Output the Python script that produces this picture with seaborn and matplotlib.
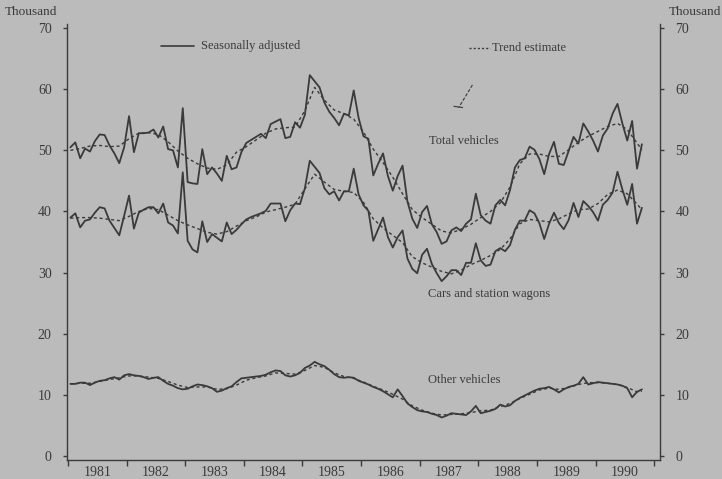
import numpy as np
import pandas as pd
import matplotlib
matplotlib.use("Agg")
import matplotlib.pyplot as plt
import seaborn as sns

# ---------------- data (thousand vehicles, monthly from Jan 1981) ----------------
years = ["1981", "1982", "1983", "1984", "1985", "1986", "1987", "1988", "1989", "1990"]

total_sa = [
    50.5, 51.3, 48.7, 50.3, 49.8, 51.5, 52.6, 52.5, 50.8, 49.5, 47.9, 50.5,
    55.6, 49.7, 52.8, 52.8, 52.9, 53.4, 52.1, 53.9, 50.2, 50.0, 47.2, 56.9,
    44.8, 44.6, 44.5, 50.2, 46.1, 47.2, 46.2, 45.0, 49.1, 46.9, 47.2, 49.7,
    51.2, 51.7, 52.2, 52.7, 52.0, 54.3, 54.7, 55.1, 52.0, 52.2, 54.6, 53.7,
    55.8, 62.3, 61.3, 60.3, 57.8, 56.3, 55.3, 54.1, 56.0, 55.7, 59.8, 55.3,
    52.3, 51.9, 45.9, 47.8, 49.5, 45.8, 43.4, 45.8, 47.5, 41.6, 38.8, 37.3,
    39.9, 40.9, 37.9, 36.6, 34.7, 35.1, 36.9, 37.4, 36.8, 38.0, 38.7, 42.9,
    39.4, 38.5, 38.0, 41.0, 41.9, 41.0, 43.5, 47.2, 48.4, 48.7, 50.6, 50.1,
    48.6, 46.1, 49.4, 51.4, 47.8, 47.6, 49.9, 52.2, 51.1, 54.4, 53.1, 51.6,
    49.8, 52.4, 53.6, 56.0, 57.6, 54.4, 51.6, 54.8, 47.0, 51.0,
]

cars_sa = [
    39.0, 39.7, 37.4, 38.5, 38.7, 39.8, 40.7, 40.5, 38.5, 37.3, 36.1, 39.3,
    42.6, 37.2, 39.8, 40.3, 40.7, 40.7, 39.7, 41.3, 38.2, 37.7, 36.4, 46.4,
    35.2, 33.8, 33.3, 38.4, 35.0, 36.3, 35.7, 35.1, 38.2, 36.3, 37.0, 37.9,
    38.7, 39.1, 39.4, 39.7, 40.1, 41.3, 41.3, 41.3, 38.4, 40.2, 41.3, 41.2,
    43.8, 48.3, 47.3, 46.3, 43.8, 42.8, 43.3, 41.8, 43.3, 43.3, 47.0, 42.8,
    41.0, 40.1, 35.2, 37.1, 39.0, 35.8, 34.1, 35.8, 36.9, 32.3, 30.6, 29.9,
    32.9, 33.9, 31.4, 29.9, 28.6, 29.4, 30.4, 30.4, 29.6, 31.6, 31.6, 34.8,
    32.0, 31.1, 31.3, 33.5, 34.0, 33.5, 34.5, 37.0, 38.5, 38.5, 40.2, 39.7,
    38.1, 35.5, 38.0, 39.8, 38.1, 37.1, 38.6, 41.4, 39.1, 41.7, 40.9, 39.9,
    38.5, 41.1, 41.9, 43.1, 46.5, 43.6, 41.1, 44.5, 38.0, 40.6,
]

other_sa = [
    11.8, 11.8, 12.0, 12.0, 11.6, 12.0, 12.3, 12.4, 12.7, 12.9, 12.5, 13.2,
    13.4, 13.2, 13.1, 12.9, 12.6, 12.8, 12.9, 12.3, 11.8, 11.5, 11.1, 10.9,
    11.0, 11.4, 11.7, 11.6, 11.4, 11.1, 10.5, 10.7, 11.1, 11.4, 12.1, 12.7,
    12.8, 12.9, 13.0, 13.1, 13.3, 13.7, 14.0, 13.9, 13.2, 13.0, 13.2, 13.6,
    14.4, 14.8, 15.4, 15.0, 14.7, 14.1, 13.4, 12.9, 12.8, 12.9, 12.8, 12.3,
    12.0, 11.7, 11.3, 11.0, 10.6, 10.1, 9.6, 10.9, 9.8, 8.6, 8.0, 7.5,
    7.3, 7.2, 6.9, 6.7, 6.3, 6.6, 7.0, 6.9, 6.8, 6.7, 7.3, 8.2,
    7.0, 7.2, 7.4, 7.7, 8.4, 8.1, 8.3, 9.0, 9.5, 9.9, 10.3, 10.7,
    11.0, 11.1, 11.3, 10.9, 10.4, 10.9, 11.3, 11.5, 11.8, 12.9, 11.7, 11.9,
    12.1, 12.0, 11.9, 11.8, 11.7, 11.5, 11.1, 9.6, 10.5, 10.9,
]

# trend estimates, read every second month (plus the last month)
trend_months = list(range(0, 117, 2)) + [117]
total_trend = [
    50.0, 50.3, 50.7, 50.8, 50.6, 50.7, 51.9, 52.8, 52.9, 52.6, 51.4, 49.9,
    48.7, 47.8, 47.1, 46.9, 47.6, 49.7, 50.6, 51.7, 52.8, 53.5, 53.7, 53.8,
    56.5, 60.3, 58.2, 56.6, 56.0, 55.1, 53.0, 50.2, 48.0, 45.6, 42.9, 40.3,
    39.0, 37.9, 36.8, 36.5, 37.1, 37.9, 39.0, 40.0, 41.4, 44.0, 47.8, 49.4,
    49.4, 49.0, 49.0, 50.1, 51.3, 52.3, 53.1, 53.9, 54.4, 53.4, 51.2, 50.1,
]
cars_trend = [
    38.9, 39.0, 39.0, 38.9, 38.7, 38.5, 39.2, 40.0, 40.5, 40.3, 39.4, 38.5,
    37.8, 37.2, 36.6, 36.3, 36.7, 37.6, 38.5, 39.1, 39.9, 40.3, 40.7, 41.2,
    43.7, 46.1, 44.8, 43.6, 43.3, 43.1, 41.5, 38.8, 37.3, 36.1, 34.9, 32.6,
    31.6, 30.9, 30.2, 29.8, 30.4, 31.3, 32.0, 32.8, 33.8, 35.5, 38.0, 38.7,
    38.5, 38.3, 38.8, 39.6, 40.3, 40.4, 41.3, 42.8, 43.5, 42.9, 41.2, 40.3,
]
other_trend = [
    11.8, 11.9, 11.9, 12.2, 12.5, 12.8, 13.1, 13.1, 12.9, 12.7, 12.2, 11.6,
    11.2, 11.3, 11.3, 10.9, 11.0, 11.6, 12.4, 12.8, 13.1, 13.6, 13.5, 13.4,
    14.0, 14.8, 14.5, 13.6, 13.0, 12.7, 12.1, 11.4, 10.8, 10.1, 9.3, 8.2,
    7.5, 7.0, 6.7, 6.8, 6.9, 7.1, 7.4, 7.5, 8.1, 8.6, 9.4, 10.1,
    10.8, 11.1, 10.9, 11.2, 11.7, 12.0, 12.0, 11.9, 11.7, 11.2, 10.5, 10.6,
]

yticks = [0, 10, 20, 30, 40, 50, 60, 70]

# ---------------- build tables ----------------
months = np.arange(len(total_sa))
sa = pd.DataFrame({"month": np.concatenate([months] * 3),
                   "value": total_sa + cars_sa + other_sa,
                   "series": ["Total"] * len(total_sa) + ["Cars"] * len(cars_sa) + ["Other"] * len(other_sa)})
tr = pd.DataFrame({"month": trend_months * 3,
                   "value": total_trend + cars_trend + other_trend,
                   "series": ["Total"] * len(total_trend) + ["Cars"] * len(cars_trend) + ["Other"] * len(other_trend)})

# ---------------- style ----------------
sns.set_style("ticks")
bg = "#bbbbbb"
ink = "#3a3a3a"
plt.rcParams["font.family"] = ["Liberation Serif", "DejaVu Serif"]
plt.rcParams["text.color"] = ink
plt.rcParams["axes.edgecolor"] = ink
plt.rcParams["xtick.color"] = ink
plt.rcParams["ytick.color"] = ink

fig = plt.figure(figsize=(7.22, 4.79), dpi=100, facecolor=bg)
ax = fig.add_axes([0.0928, 0.0397, 0.8213, 0.910])
ax.set_facecolor(bg)

pal = {"Total": ink, "Cars": ink, "Other": ink}
sns.lineplot(data=sa, x="month", y="value", hue="series", palette=pal, units="series",
             estimator=None, lw=1.3, legend=False, ax=ax)
for s in ["Total", "Cars", "Other"]:
    d = tr[tr.series == s]
    sns.lineplot(x=d["month"].values, y=d["value"].values, color=ink, lw=1.0,
                 linestyle=(0, (2.2, 2.0)), ax=ax, legend=False)

ax.set_xlim(-0.7, 120.7)
ax.set_ylim(-0.65, 70.65)
ax.set_xlabel("")
ax.set_ylabel("")

# spines
ax.spines["top"].set_visible(False)
for sp in ["left", "right", "bottom"]:
    ax.spines[sp].set_visible(True)
    ax.spines[sp].set_linewidth(1.0)
    ax.spines[sp].set_color(ink)

# y ticks both sides
ax.set_yticks(yticks)
ax.set_yticklabels([str(v) for v in yticks], fontsize=10)
ax.tick_params(axis="y", which="both", left=True, right=True, labelleft=True, labelright=True,
               direction="out", length=3, width=1.0)
ax.tick_params(axis="y", which="both", pad=8)
for lbl in ax.get_yticklabels():
    pass
ax.yaxis.set_tick_params(which="major", pad=8)
# x ticks at year boundaries, labels at mid-year
ax.set_xticks([-0.5 + 12 * k for k in range(11)])
ax.set_xticklabels([""] * 11)
ax.set_xticks([5.5 + 12 * k for k in range(10)], minor=True)
ax.set_xticklabels(years, minor=True, fontsize=10)
ax.tick_params(axis="x", which="major", direction="out", length=4, width=1.0)
ax.tick_params(axis="x", which="minor", length=0, pad=4)

# unit labels
fig.text(0.007, 0.974, "Thousand", fontsize=9.5, ha="left", va="center", color=ink)
fig.text(0.999, 0.974, "Thousand", fontsize=9.5, ha="right", va="center", color=ink)

# legend (drawn manually like the original)
ax.plot([18.5, 25.3], [67.0, 67.0], color=ink, lw=1.2)
ax.text(26.8, 67.0, "Seasonally adjusted", fontsize=9, va="center", ha="left")
ax.plot([81.5, 86.0], [66.8, 66.8], color=ink, lw=1.0, linestyle=(0, (1.5, 1.5)))
ax.text(86.3, 66.8, "Trend estimate", fontsize=9, va="center", ha="left")
ax.plot([82.3, 79.5], [60.7, 57.0], color=ink, lw=0.8, linestyle=(0, (3, 1.5)))
ax.plot([78.5, 80.3], [57.2, 57.0], color=ink, lw=0.8)

# series labels
ax.text(73.5, 51.6, "Total vehicles", fontsize=9, va="center", ha="left")
ax.text(73.3, 26.5, "Cars and station wagons", fontsize=9, va="center", ha="left")
ax.text(73.3, 12.5, "Other vehicles", fontsize=9, va="center", ha="left")

fig.savefig("out.png", dpi=100, facecolor=bg)
